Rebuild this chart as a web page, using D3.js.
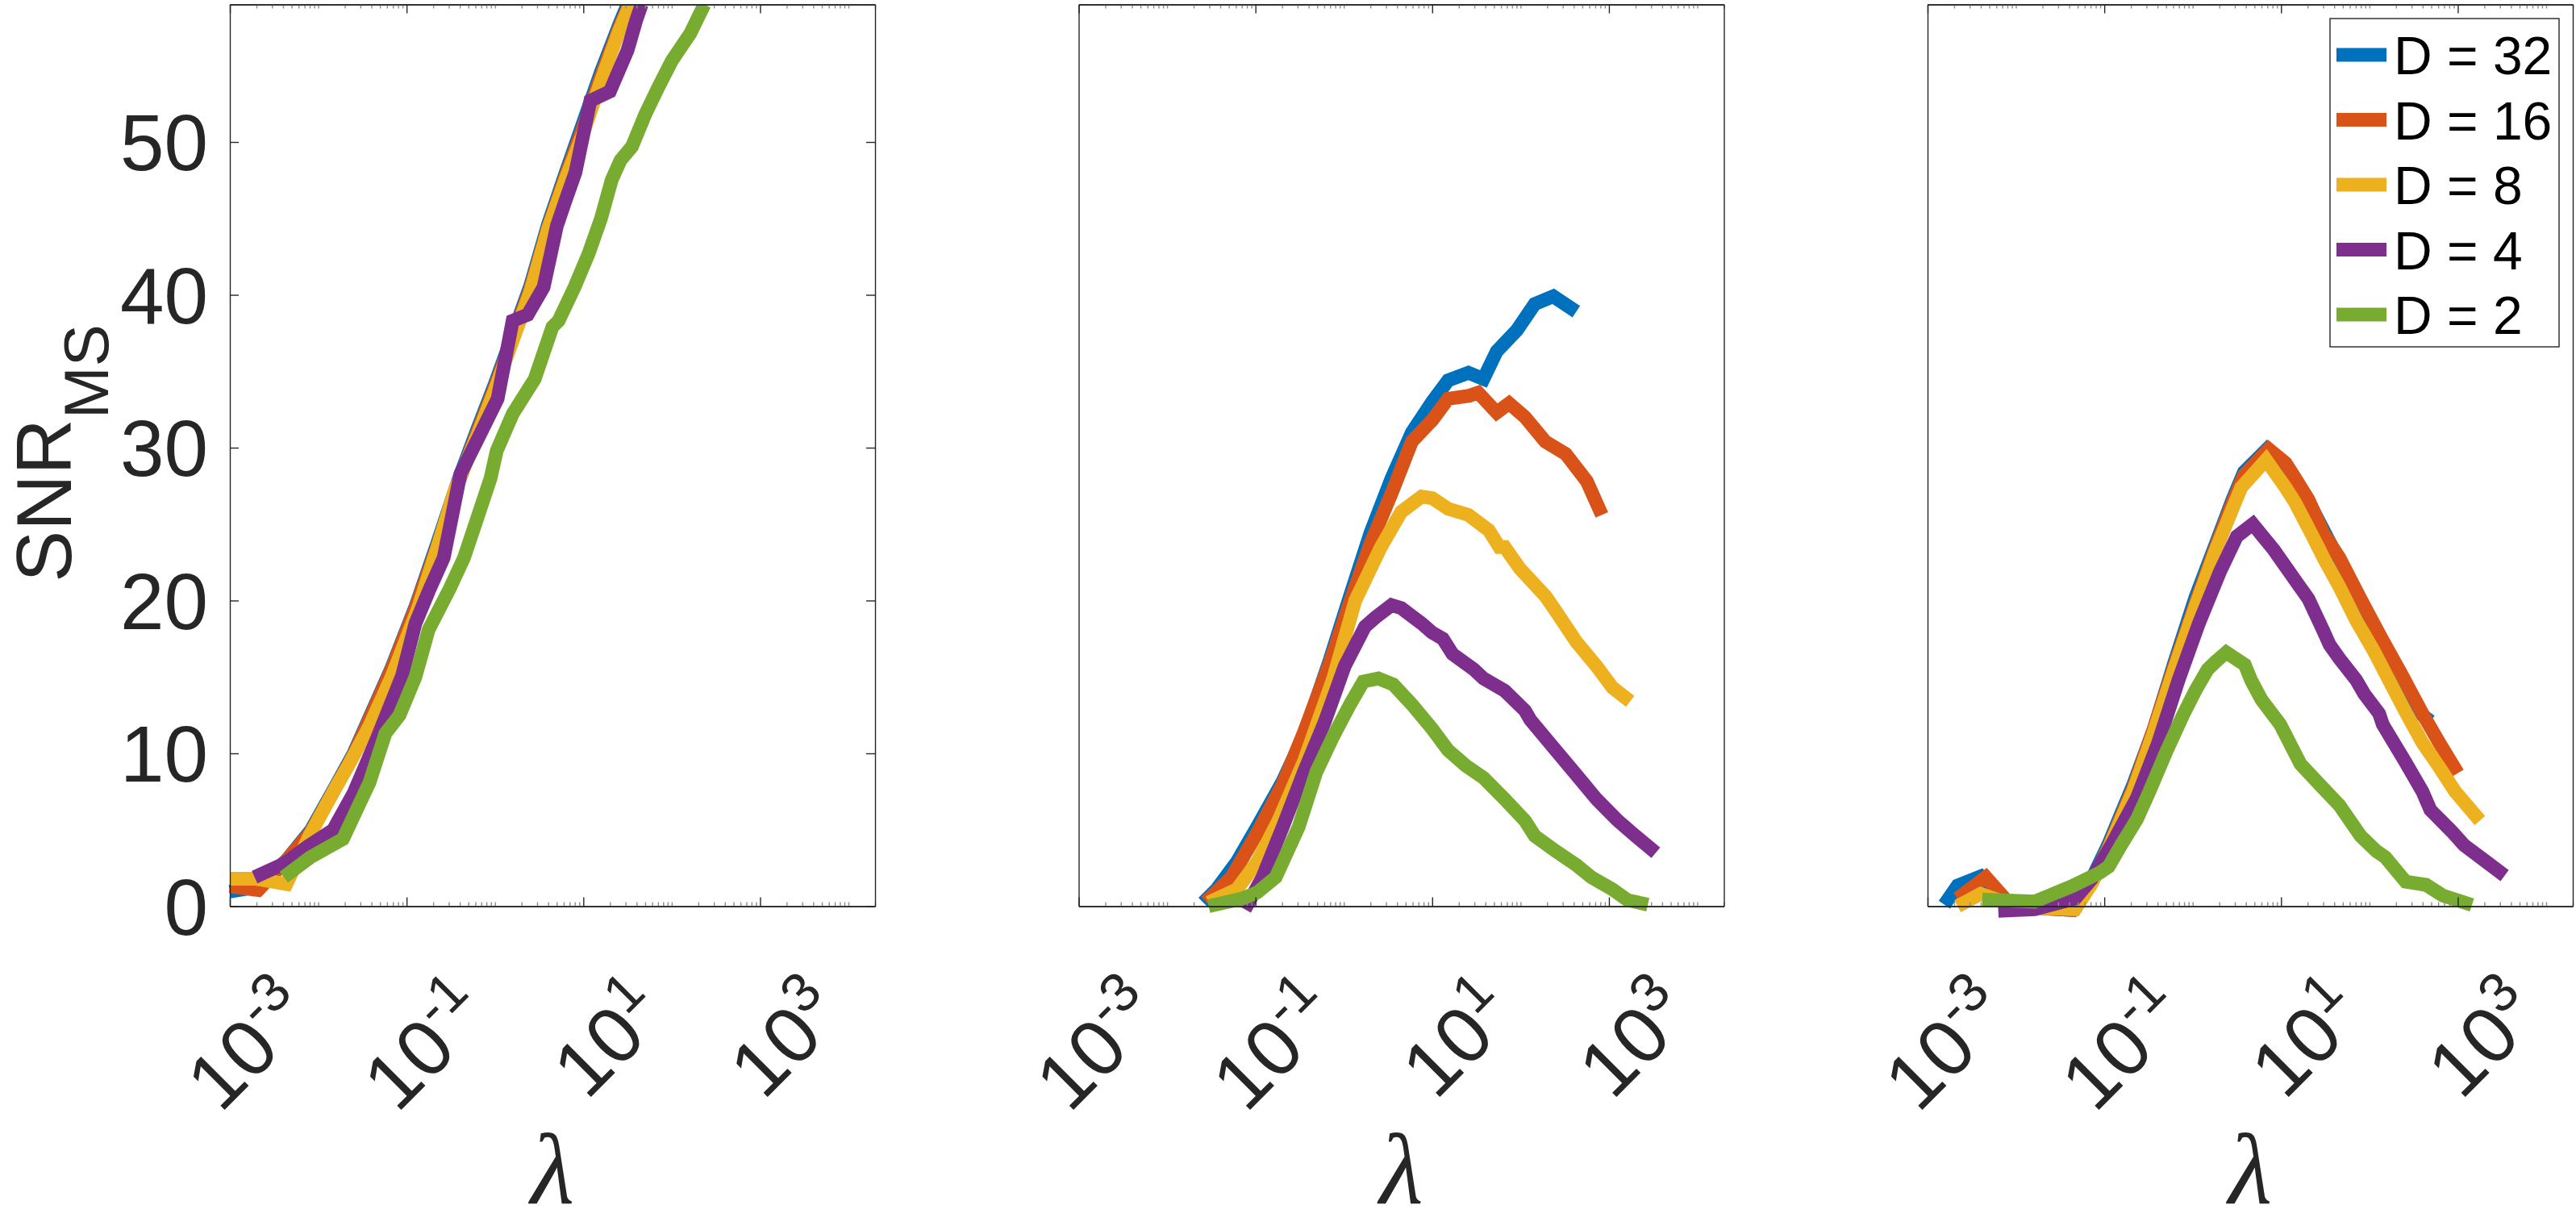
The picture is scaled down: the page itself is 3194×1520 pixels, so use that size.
<!DOCTYPE html>
<html><head><meta charset="utf-8">
<script src="https://cdn.jsdelivr.net/npm/d3@7"></script>
<style>body{margin:0;background:#fff}svg{display:block}</style>
</head><body>
<svg id="chart" width="3194" height="1520"></svg>
<script>
// ---------------- data ----------------
const seriesNames = ["D = 32", "D = 16", "D = 8", "D = 4", "D = 2"];
const seriesColors = ["#0072BD", "#D95319", "#EDB120", "#7E2F8E", "#77AC30"];
const xMajorTicks = [1e-3, 1e-1, 1e1, 1e3];
const xMajorExponents = ["-3", "-1", "1", "3"];
const yTicks = [0, 10, 20, 30, 40, 50];
const xLabel = "\u03BB";

// Panel 1 : [lambda, SNR_MS]
const p1_D32 = [[0.001,0.95],[0.001995,1.25],[0.004365,3.0],[0.008318,5.0],[0.01585,7.9],[0.02512,10.0],[0.03981,12.6],[0.06761,15.6],[0.1259,19.6],[0.2239,23.8],[0.3802,27.8],[0.6310,31.2],[1,34.2],[1.585,37.4],[2.512,40.6],[3.981,44.6],[6.310,48.0],[10,51.3],[15.85,54.6],[25.12,57.6],[31.62,59.0]];
const p1_D16 = [[0.001,1.3],[0.002089,1.05],[0.004365,3.0],[0.008318,4.9],[0.01585,7.8],[0.02512,9.9],[0.03981,12.5],[0.06761,15.5],[0.1259,19.5],[0.2239,23.6],[0.3802,27.6],[0.6310,31.0],[1,34.0],[1.585,37.2],[2.512,40.4],[3.981,44.4],[6.310,47.8],[10,51.0],[15.85,54.3],[25.12,57.4],[33.11,59.0]];
const p1_D8 = [[0.001,1.8],[0.00195,1.8],[0.004365,1.45],[0.008128,4.7],[0.01549,7.7],[0.02188,9.2],[0.03802,11.8],[0.06761,15.0],[0.1349,19.5],[0.2239,23.5],[0.3548,27.3],[0.6310,30.8],[1,33.8],[1.585,37.0],[2.512,40.2],[3.981,44.3],[6.310,47.6],[10,50.6],[15.85,54.0],[25.12,57.2],[33.88,59.0]];
const p1_D4 = [[0.001905,1.9],[0.004169,2.8],[0.007586,3.9],[0.01479,5.0],[0.02512,7.4],[0.04571,10.9],[0.08913,15.1],[0.1259,18.5],[0.1778,20.6],[0.2630,22.8],[0.4074,28.3],[0.6310,30.5],[1.072,33.2],[1.585,38.3],[2.344,38.7],[3.548,40.5],[5.012,44.5],[6.310,46.2],[8.128,48.0],[12.02,52.7],[19.95,53.3],[31.62,56.0],[39.81,58.0],[45.71,59.0]];
const p1_D2 = [[0.004074,1.9],[0.008128,3.2],[0.01905,4.4],[0.03802,8.1],[0.05754,11.3],[0.08318,12.5],[0.1259,15.0],[0.1778,18.1],[0.3090,20.8],[0.4467,22.8],[0.6310,25.4],[0.8913,28.0],[1.047,29.8],[1.585,32.2],[2.818,34.5],[4.467,37.9],[5.248,38.3],[7.943,40.5],[11.48,42.7],[15.85,45.0],[20.89,47.5],[26.30,48.8],[35.48,49.7],[50.12,51.8],[70.79,53.6],[100,55.3],[162.2,57.1],[234.4,59.0]];

// Panel 2
const p2_D32 = [[0.02570,0.24],[0.03631,1.1],[0.06166,2.9],[0.1047,5.2],[0.2042,8.2],[0.3548,11.2],[0.6918,16.1],[1.175,20.3],[1.995,24.4],[3.467,28.0],[5.888,31.0],[10,33.0],[15.14,34.4],[25.70,34.9],[38.02,34.5],[53.70,36.3],[91.20,37.7],[144.5,39.4],[234.4,39.9],[426.6,38.9]];
const p2_D16 = [[0.02754,0.3],[0.05370,1.9],[0.1047,4.8],[0.2042,8.0],[0.3548,11.4],[0.6918,15.9],[1.175,19.9],[1.995,23.7],[3.467,27.0],[5.888,30.4],[10,31.8],[15.14,33.2],[26.30,33.4],[33.11,33.6],[53.70,32.3],[74.13,32.9],[112.2,32.0],[190.5,30.4],[323.6,29.6],[562.3,27.8],[831.8,25.6]];
const p2_D8 = [[0.02951,0.24],[0.06166,1.1],[0.1047,2.9],[0.1820,5.6],[0.3548,9.5],[0.7586,14.9],[1.349,20.0],[2.630,23.5],[4.467,25.8],[7.586,26.8],[10,26.7],[15.14,26.0],[25.70,25.6],[43.65,24.6],[57.54,23.5],[66.07,23.5],[97.72,22.1],[190.5,20.3],[251.2,19.3],[426.6,17.3],[724.4,15.7],[1096,14.3],[1738,13.4]];
const p2_D4 = [[0.07586,-0.2],[0.1202,1.9],[0.2042,5.2],[0.3548,8.8],[0.6026,12.0],[1.023,15.7],[1.738,18.3],[2.291,18.9],[3.467,19.7],[4.467,19.5],[7.586,18.5],[10,17.9],[13.18,17.5],[16.98,16.5],[29.51,15.5],[38.02,14.9],[66.07,14.1],[112.2,12.8],[128.8,12.2],[218.8,10.6],[426.6,8.6],[724.4,7.0],[1259,5.6],[1995,4.6],[3388,3.5]];
const p2_D2 = [[0.02951,0.0],[0.07079,0.5],[0.1047,0.9],[0.1698,1.9],[0.3090,5.2],[0.4898,8.8],[0.7413,11.0],[1.175,13.2],[1.660,14.7],[2.455,14.9],[3.631,14.5],[5.888,13.2],[10,11.6],[15.14,10.2],[23.99,9.2],[38.02,8.4],[66.07,7.0],[112.2,5.6],[144.5,4.6],[251.2,3.6],[426.6,2.7],[631.0,1.9],[1096,1.1],[1622,0.4],[2754,0.1]];

// Panel 3
const p3_D32 = [[0.001549,0.1],[0.002188,1.35],[0.003981,1.95],[0.007762,0.1],[0.01622,-0.1],[0.04365,-0.25],[0.07244,1.8],[0.1122,4.1],[0.2138,8.0],[0.3631,11.6],[0.6166,15.9],[1.072,20.2],[1.820,23.7],[2.818,26.6],[3.802,28.4],[6.918,29.9],[11.22,28.7],[14.45,27.8],[20.42,26.5],[37.15,23.6],[63.10,20.9],[107.2,18.1],[182.0,15.4],[309.0,13.0],[489.8,12.1]];
const p3_D16 = [[0.002188,0.5],[0.004571,1.9],[0.008318,0.2],[0.01622,-0.1],[0.04365,-0.25],[0.07244,1.6],[0.1122,3.9],[0.2138,7.8],[0.3631,11.6],[0.6166,15.7],[1.072,19.8],[1.820,23.5],[2.818,26.4],[3.802,28.2],[7.244,29.9],[11.22,29.0],[14.45,28.0],[20.42,26.6],[30.20,24.4],[45.71,22.8],[79.43,20.1],[134.9,17.6],[229.1,15.2],[398.1,12.6],[616.6,10.7],[1000,8.7]];
const p3_D8 = [[0.002188,0.0],[0.003981,0.8],[0.007079,0.3],[0.01622,-0.1],[0.04677,-0.2],[0.07244,1.5],[0.1122,3.8],[0.2138,7.6],[0.3631,11.4],[0.6166,15.5],[1.072,19.6],[1.820,23.3],[2.818,26.0],[3.548,27.4],[6.761,29.2],[11.22,27.4],[14.45,26.4],[21.88,24.4],[30.20,22.8],[45.71,20.9],[70.79,18.7],[109.6,16.8],[166.0,14.8],[257.0,12.7],[398.1,10.7],[616.6,9.1],[933.3,7.5],[1778,5.6]];
const p3_D4 = [[0.006310,-0.3],[0.01622,-0.2],[0.04677,0.5],[0.07244,1.8],[0.1230,4.1],[0.2344,7.1],[0.4074,10.7],[0.6918,14.8],[1.175,18.5],[2.042,21.9],[3.162,24.2],[4.786,25.0],[8.318,23.3],[15.85,21.0],[20.42,20.1],[30.20,18.0],[35.48,17.1],[45.71,16.2],[70.79,14.8],[87.10,13.9],[128.8,12.6],[141.3,11.9],[257.0,9.4],[398.1,7.5],[489.8,6.3],[851.1,4.9],[1175,4.0],[1995,3.0],[3388,2.0]];
const p3_D2 = [[0.004169,0.43],[0.01622,0.3],[0.04266,1.3],[0.08913,2.2],[0.1122,2.6],[0.1549,4.0],[0.2344,5.7],[0.3236,7.5],[0.5012,10.1],[0.7762,12.5],[1.072,14.1],[1.479,15.5],[1.820,16.0],[2.399,16.6],[3.890,15.8],[4.571,14.8],[6.026,13.5],[9.772,11.9],[16.60,9.3],[26.92,8.0],[45.71,6.6],[79.43,4.6],[120.2,3.6],[151.4,3.2],[257.0,1.6],[436.5,1.4],[676.1,0.7],[1445,0.08]];

const panels = [
  [p1_D32, p1_D16, p1_D8, p1_D4, p1_D2],
  [p2_D32, p2_D16, p2_D8, p2_D4, p2_D2],
  [p3_D32, p3_D16, p3_D8, p3_D4, p3_D2]
];

// ---------------- layout ----------------
const W = 3194, H = 1520;
const panelLeft = [285, 1337.5, 2390];
const panelW = 800, plotTop = 5.5, plotBottom = 1123.5;
const axisColor = "#262626";
const font = "'Liberation Sans', Arial, Helvetica, sans-serif";
const tickFont = 98, supFont = 68;

const svg = d3.select("#chart");
svg.append("rect").attr("width", W).attr("height", H).attr("fill", "#fff");

const y = d3.scaleLinear().domain([0, 59]).range([plotBottom, plotTop]);
const line = (x) => d3.line().x(d => x(d[0])).y(d => y(d[1]));

panels.forEach((series, pi) => {
  const x0 = panelLeft[pi];
  const x = d3.scaleLog().domain([1e-3, 2e4]).range([x0, x0 + panelW]);
  const g = svg.append("g");

  const clipId = "clip" + pi;
  svg.append("clipPath").attr("id", clipId).append("rect")
    .attr("x", x0 - 20).attr("y", plotTop).attr("width", panelW + 20).attr("height", plotBottom - plotTop + 30);

  const lg = g.append("g").attr("clip-path", `url(#${clipId})`);
  series.forEach((data, si) => {
    lg.append("path").datum(data)
      .attr("d", line(x))
      .attr("fill", "none")
      .attr("stroke", seriesColors[si])
      .attr("stroke-width", 17)
      .attr("stroke-linecap", "butt")
      .attr("stroke-linejoin", "miter")
      .attr("stroke-miterlimit", 3);
  });

  const minorTicks = x.ticks().filter(t => !xMajorTicks.some(m => Math.abs(Math.log10(m) - Math.log10(t)) < 1e-6));

  const styleAxis = (sel, col) => {
    sel.selectAll("path.domain").attr("stroke", axisColor).attr("stroke-width", 1.4);
    sel.selectAll(".tick line").attr("stroke", col).attr("stroke-width", 1.4);
    sel.selectAll(".tick text").remove();
  };
  g.append("g").attr("transform", `translate(0,${plotBottom})`)
    .call(d3.axisBottom(x).tickValues(minorTicks).tickSizeInner(-5).tickSizeOuter(0).tickFormat(""))
    .call(s => styleAxis(s, "#8c8c8c"));
  g.append("g").attr("transform", `translate(0,${plotBottom})`)
    .call(d3.axisBottom(x).tickValues(xMajorTicks).tickSizeInner(-11).tickSizeOuter(0).tickFormat(""))
    .call(s => styleAxis(s, axisColor));
  g.append("g").attr("transform", `translate(0,${plotTop})`)
    .call(d3.axisTop(x).tickValues(minorTicks).tickSizeInner(-5).tickSizeOuter(0).tickFormat(""))
    .call(s => styleAxis(s, "#8c8c8c"));
  g.append("g").attr("transform", `translate(0,${plotTop})`)
    .call(d3.axisTop(x).tickValues(xMajorTicks).tickSizeInner(-11).tickSizeOuter(0).tickFormat(""))
    .call(s => styleAxis(s, axisColor));
  const yt = pi === 0 ? yTicks : [];
  g.append("g").attr("transform", `translate(${x0},0)`)
    .call(d3.axisLeft(y).tickValues(yt).tickSizeInner(-11).tickSizeOuter(0).tickFormat(""))
    .call(s => styleAxis(s, axisColor));
  g.append("g").attr("transform", `translate(${x0 + panelW},0)`)
    .call(d3.axisRight(y).tickValues(yt).tickSizeInner(-11).tickSizeOuter(0).tickFormat(""))
    .call(s => styleAxis(s, axisColor));

  // x tick labels (rotated 45°)
  xMajorTicks.forEach((t, i) => {
    const tx = g.append("text")
      .attr("transform", `translate(${x(t) + 108},${plotBottom + 138}) rotate(-45)`)
      .attr("text-anchor", "end")
      .attr("font-family", font).attr("font-size", tickFont).attr("fill", axisColor);
    tx.append("tspan").text("10");
    tx.append("tspan").attr("font-size", supFont).attr("dy", -40).text(xMajorExponents[i]);
  });

  if (pi === 0) {
    yTicks.forEach(v => {
      g.append("text").attr("x", x0 - 27).attr("y", y(v) + 35)
        .attr("text-anchor", "end")
        .attr("font-family", font).attr("font-size", tickFont).attr("fill", axisColor)
        .text(v);
    });
    const yl = g.append("text")
      .attr("transform", `translate(88,562) rotate(-90)`)
      .attr("text-anchor", "middle")
      .attr("font-family", font).attr("font-size", 96).attr("fill", axisColor);
    yl.append("tspan").text("SNR");
    yl.append("tspan").attr("font-size", 78).attr("dy", 46).text("MS");
  }

  // x label
  g.append("text").attr("x", x0 + panelW / 2).attr("y", 1492)
    .attr("text-anchor", "middle")
    .attr("font-family", "'Liberation Serif', 'DejaVu Serif', serif")
    .attr("font-style", "italic")
    .attr("font-size", 125).attr("fill", axisColor)
    .text(xLabel);

  if (pi === 2) {
    const lgx = 2889, lgy = 23, lgw = 284, lgh = 407;
    g.append("rect").attr("x", lgx).attr("y", lgy).attr("width", lgw).attr("height", lgh)
      .attr("fill", "#fff").attr("stroke", axisColor).attr("stroke-width", 1.4);
    seriesNames.forEach((n, si) => {
      const ry = lgy + 45 + si * 80.5;
      g.append("line").attr("x1", lgx + 8).attr("x2", lgx + 70).attr("y1", ry).attr("y2", ry)
        .attr("stroke", seriesColors[si]).attr("stroke-width", 17);
      g.append("text").attr("x", lgx + 79).attr("y", ry + 24)
        .attr("font-family", font).attr("font-size", 66).attr("fill", "#000").text(n);
    });
  }
});
</script>
</body></html>
